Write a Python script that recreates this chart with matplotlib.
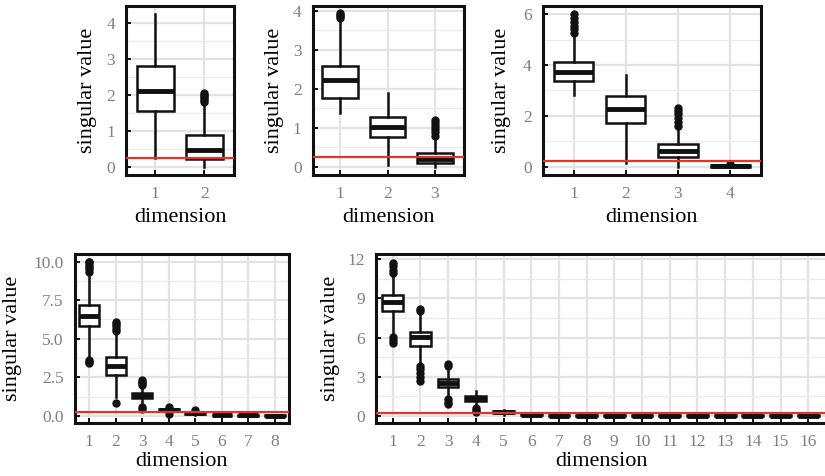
import matplotlib
matplotlib.use("Agg")
import matplotlib.pyplot as plt
from matplotlib.ticker import MultipleLocator

plt.rcParams['font.family'] = ['Liberation Serif', 'DejaVu Serif']

# threshold shown as red line
threshold = 0.24

# panel 1: 2 dimensions
p1_dims = [1, 2]
p1_q1 = [1.55, 0.22]
p1_med = [2.1, 0.47]
p1_q3 = [2.8, 0.87]
p1_lo = [0.25, 0.0]
p1_hi = [4.25, 1.8]
p1_out = [[], [1.8, 1.85, 1.9, 1.95, 2.0, 2.05]]

# panel 2: 3 dimensions
p2_dims = [1, 2, 3]
p2_q1 = [1.77, 0.77, 0.09]
p2_med = [2.22, 1.03, 0.2]
p2_q3 = [2.59, 1.28, 0.35]
p2_lo = [1.38, 0.04, 0.0]
p2_hi = [3.8, 1.88, 0.75]
p2_out = [[3.82, 3.86, 3.9, 3.94], [], [0.8, 0.88, 0.96, 1.04, 1.12, 1.2]]

# panel 3: 4 dimensions
p3_dims = [1, 2, 3, 4]
p3_q1 = [3.37, 1.71, 0.36, 0.0]
p3_med = [3.72, 2.25, 0.62, 0.02]
p3_q3 = [4.13, 2.78, 0.89, 0.05]
p3_lo = [2.82, 0.15, 0.0, 0.0]
p3_hi = [5.2, 3.6, 1.55, 0.1]
p3_out = [[5.25, 5.4, 5.55, 5.7, 5.85, 6.0], [],
          [1.6, 1.75, 1.9, 2.05, 2.2, 2.3], [0.12]]

# panel 4: 8 dimensions
p4_dims = [1, 2, 3, 4, 5, 6, 7, 8]
p4_q1 = [5.82, 2.64, 1.15, 0.3, 0.1, 0.02, 0.0, 0.0]
p4_med = [6.5, 3.25, 1.3, 0.38, 0.15, 0.05, 0.02, 0.01]
p4_q3 = [7.2, 3.79, 1.48, 0.45, 0.2, 0.08, 0.04, 0.03]
p4_lo = [3.8, 1.2, 0.8, 0.15, 0.02, 0.0, 0.0, 0.0]
p4_hi = [9.3, 5.4, 1.9, 0.55, 0.3, 0.12, 0.06, 0.05]
p4_out = [[9.35, 9.5, 9.65, 9.8, 9.95, 10.0, 3.4, 3.5, 3.6],
          [5.5, 5.65, 5.8, 5.95, 6.1, 0.85],
          [2.0, 2.1, 2.2, 2.3, 0.45, 0.55],
          [0.6, 0.1], [0.35], [], [], []]

# panel 5: 16 dimensions
p5_dims = [1, 2, 3, 4, 5, 6, 7, 8, 9, 10, 11, 12, 13, 14, 15, 16]
p5_q1 = [8.06, 5.36, 2.2, 1.15, 0.2, 0.05, 0.0, 0.0, 0.0, 0.0, 0.0, 0.0, 0.0, 0.0, 0.0, 0.0]
p5_med = [8.75, 6.03, 2.55, 1.35, 0.28, 0.08, 0.02, 0.02, 0.02, 0.02, 0.02, 0.02, 0.02, 0.02, 0.02, 0.02]
p5_q3 = [9.27, 6.41, 2.83, 1.55, 0.35, 0.12, 0.05, 0.05, 0.05, 0.05, 0.05, 0.05, 0.05, 0.05, 0.05, 0.05]
p5_lo = [6.1, 3.9, 1.5, 0.7, 0.1, 0.0, 0.0, 0.0, 0.0, 0.0, 0.0, 0.0, 0.0, 0.0, 0.0, 0.0]
p5_hi = [10.9, 7.9, 3.7, 1.95, 0.45, 0.2, 0.08, 0.08, 0.08, 0.08, 0.08, 0.08, 0.08, 0.08, 0.08, 0.08]
p5_out = [[10.95, 11.2, 11.45, 11.7, 5.6, 5.85, 6.05],
          [8.0, 8.2, 2.7, 3.0, 3.3, 3.6, 3.8],
          [3.8, 4.0, 0.9, 1.1, 1.3],
          [0.3, 0.45, 0.6],
          [], [], [], [], [], [], [], [], [], [], [], []]

W, H = 825, 476
fig = plt.figure(figsize=(W / 100, H / 100), dpi=100)


def panel(x0, x1, ytop, ybot, dims, q1, med, q3, lo, hi, out,
          xlim, ylim, major, ylab_off, xlab_off, fmt=None):
    ax = fig.add_axes([x0 / W, 1 - ybot / H, (x1 - x0) / W, (ybot - ytop) / H])
    stats = []
    for i in range(len(dims)):
        stats.append(dict(q1=q1[i], med=med[i], q3=q3[i], whislo=lo[i],
                          whishi=hi[i], fliers=out[i]))
    ax.bxp(stats, positions=dims, widths=0.75, showcaps=False, patch_artist=True,
           boxprops=dict(facecolor='white', edgecolor='#111111', linewidth=1.8),
           medianprops=dict(color='#111111', linewidth=3.5, solid_capstyle='butt'),
           whiskerprops=dict(color='#111111', linewidth=1.8),
           flierprops=dict(marker='o', markersize=5, markerfacecolor='#111111',
                           markeredgecolor='#111111'),
           zorder=3)
    ax.axhline(threshold, color='#E5322B', linewidth=1.6, zorder=5)
    ax.set_xlim(*xlim)
    ax.set_ylim(*ylim)
    ax.set_xticks(dims)
    ax.set_xticklabels([str(d) for d in dims])
    ax.yaxis.set_major_locator(MultipleLocator(major))
    ax.yaxis.set_minor_locator(MultipleLocator(major / 2))
    if fmt:
        ax.yaxis.set_major_formatter(plt.FuncFormatter(lambda v, p: fmt % v))
    ax.grid(which='major', color='#E3E3E3', linewidth=1.6, zorder=0)
    ax.grid(which='minor', axis='y', color='#EBEBEB', linewidth=0.9, zorder=0)
    ax.set_axisbelow(True)
    ax.tick_params(axis='both', which='major', direction='in', length=3.5, width=1.4,
                   color='#111111', labelsize=12.5, labelcolor='#808080', pad=8)
    ax.tick_params(axis='y', which='minor', length=0)
    for s in ax.spines.values():
        s.set_linewidth(2.2)
        s.set_color('#111111')
    ax.set_ylabel('singular value', fontsize=16)
    ax.set_xlabel('dimension', fontsize=16)
    ax.yaxis.set_label_coords(-ylab_off / (x1 - x0), 0.5)
    ax.xaxis.set_label_coords(0.5, -xlab_off / (ybot - ytop))
    return ax


panel(126, 234, 6, 175, p1_dims, p1_q1, p1_med, p1_q3, p1_lo, p1_hi, p1_out,
      (0.41, 2.6), (-0.23, 4.46), 1, 29, 33)
panel(312.7, 464.3, 5.7, 175, p2_dims, p2_q1, p2_med, p2_q3, p2_lo, p2_hi, p2_out,
      (0.425, 3.617), (-0.21, 4.13), 1, 29, 33)
panel(542.7, 761, 5.7, 175, p3_dims, p3_q1, p3_med, p3_q3, p3_lo, p3_hi, p3_out,
      (0.41, 4.59), (-0.33, 6.33), 2, 32, 33)
panel(74.7, 289.3, 254, 422.7, p4_dims, p4_q1, p4_med, p4_q3, p4_lo, p4_hi, p4_out,
      (0.45, 8.55), (-0.45, 10.5), 2.5, 53, 29, fmt='%.1f')
panel(376, 826.5, 254, 422.7, p5_dims, p5_q1, p5_med, p5_q3, p5_lo, p5_hi, p5_out,
      (0.397, 16.66), (-0.51, 12.4), 3, 36, 29)

plt.savefig("out.png", dpi=100)
